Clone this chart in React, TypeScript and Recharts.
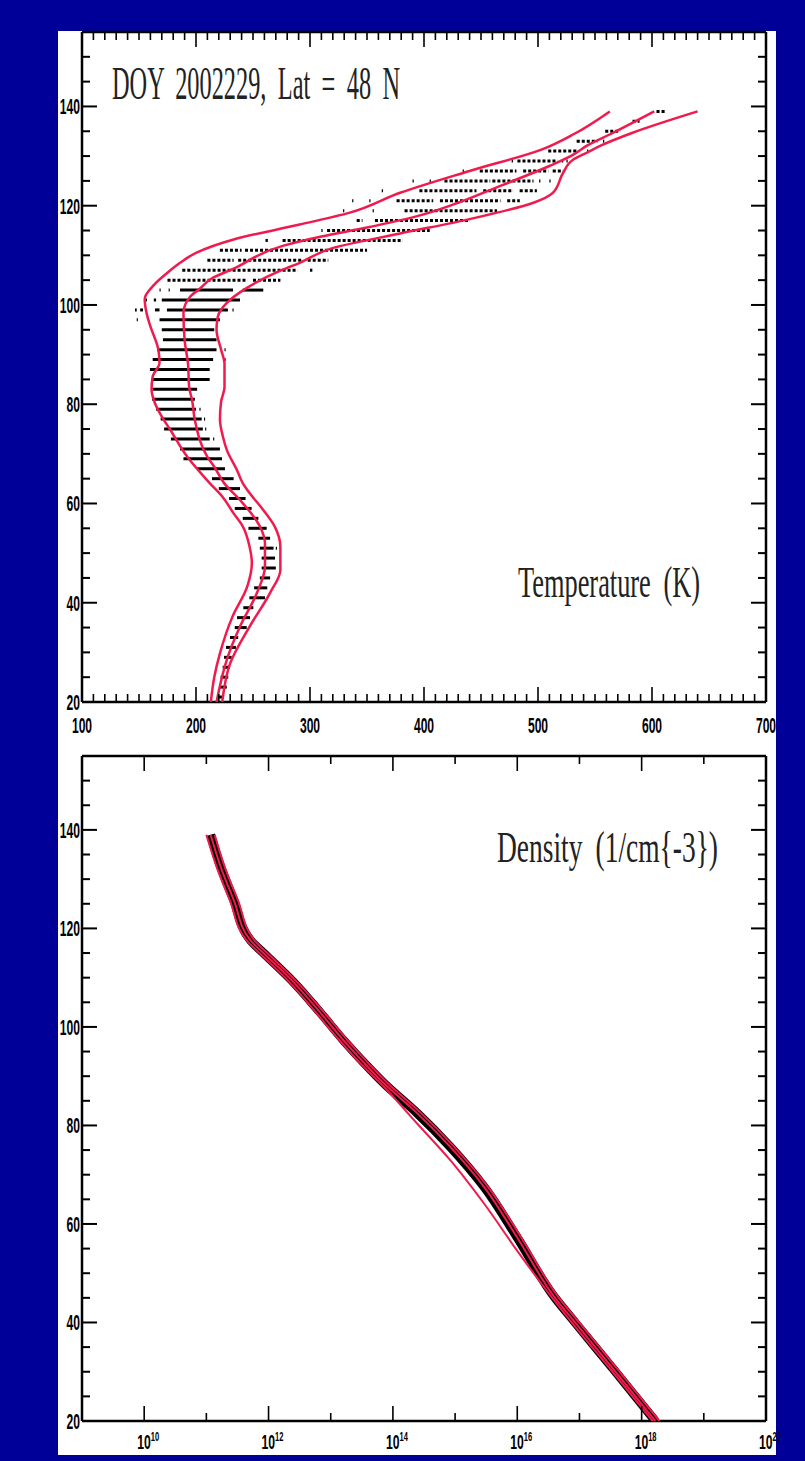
import React from "react";
import { ScatterChart, Scatter, XAxis, YAxis, ErrorBar } from "recharts";

const BLUE = "#000099";
const RED = "#f11a4d";
const INK = "#000";
const LABEL_FONT = "'Liberation Sans', Arial, sans-serif";
const NOTE_FONT = "'Liberation Serif', 'DejaVu Serif', serif";

const altTicks = [20, 25, 30, 35, 40, 45, 50, 55, 60, 65, 70, 75, 80, 85, 90, 95, 100, 105, 110, 115, 120, 125, 130, 135, 140, 145, 150];
const tempTicks = Array.from({ length: 61 }, (_, i) => 100 + i * 10);
const densTicks = [1e9, 1e10, 1e11, 1e12, 1e13, 1e14, 1e15, 1e16, 1e17, 1e18, 1e19, 1e20];

// red temperature profiles: [altitude km, temperature K], top to bottom
const tempCold: [number, number][] = [
  [139, 563], [134.5, 532], [131.3, 503], [127, 440], [122.6, 379], [118.6, 335], [116.2, 291],
  [113.2, 233], [110.5, 200], [108.5, 186], [106.5, 175], [104, 163], [101.2, 155], [98, 157],
  [95.7, 160], [91, 167], [88.3, 168], [85.6, 162], [82.9, 161], [80.2, 164], [77.5, 170],
  [75, 177], [69.5, 192], [64.1, 212], [61.4, 223], [58, 233], [55.4, 241], [51.3, 247],
  [48, 249], [43.3, 245], [37.2, 232], [29.8, 221], [25, 216], [20, 213],
];

const tempMean: [number, number][] = [
  [139, 602], [134.7, 566], [132.1, 543], [130.3, 531], [128, 510], [124, 467], [120.6, 430],
  [117.9, 394], [115.6, 350], [113.8, 310], [111.9, 276], [107.2, 232], [105.5, 215], [103.2, 203],
  [101.7, 195], [98.4, 189], [93, 190], [88.1, 193], [83.4, 194], [80.9, 196.5], [76.8, 199],
  [69.4, 210], [67.4, 216], [64, 225], [60.7, 238.6], [55.4, 256], [52, 260.5], [47.3, 260.5],
  [42, 253.5], [35.2, 238.6], [28.5, 227], [20, 218],
];

const tempWarm: [number, number][] = [
  [139, 640], [134.7, 583], [132, 554], [130.7, 543], [129.3, 531], [126.6, 522], [122.6, 513],
  [120.6, 496], [117.2, 438], [114.4, 379], [111.4, 319], [108.5, 291], [107, 275], [103.5, 245],
  [100.4, 227], [97.5, 219], [95, 218], [91, 222], [88.1, 225], [83.4, 225], [80.5, 222],
  [76.9, 221], [73.4, 223.7], [70.8, 227], [66.7, 236], [64.1, 241], [62.7, 245], [58.7, 259],
  [55.4, 269], [51.3, 274], [46.6, 274], [42, 265], [35.2, 247], [27.8, 230], [20, 223],
];

// observed temperatures: altitude row (km) and the spans of dashes on it (K)
const tempObs: [number, [number, number][]][] = [
  [21, [[219, 224]]],
  [23, [[221, 227]]],
  [25, [[221.6, 228.3]]],
  [27, [[223.4, 229.8]]],
  [29, [[224.6, 231.3]]],
  [31, [[226.3, 235]]],
  [33, [[229.8, 237]]],
  [35, [[234, 244.5]]],
  [37, [[236, 247.4]]],
  [39, [[241.5, 250.3]]],
  [41, [[246.8, 260.5]]],
  [43, [[251, 262.5]]],
  [45, [[256, 265]]],
  [47, [[257.6, 270]]],
  [49, [[257.6, 269.3]]],
  [51, [[256, 268], [270, 271]]],
  [53, [[254.7, 265]]],
  [55, [[246, 262]]],
  [57, [[241, 254.7]]],
  [59, [[234, 248.8]]],
  [61, [[229, 243.5]]],
  [63, [[220, 238.6]]],
  [65, [[214, 233]]],
  [67, [[201, 225.4]]],
  [69, [[189, 222.8]]],
  [71, [[186, 221]]],
  [73, [[178, 212], [215, 216]]],
  [75, [[172, 206], [208, 209]]],
  [77, [[169, 205], [207, 208]]],
  [79, [[165, 200], [203, 204]]],
  [81, [[161.5, 199]]],
  [83, [[162, 201]]],
  [85, [[161, 212]]],
  [87, [[159.6, 212]]],
  [89, [[162, 215], [225, 226]]],
  [91, [[166, 218], [225, 226]]],
  [93, [[171, 218]]],
  [95, [[170, 216]]],
  [97, [[148, 149], [168, 221]]],
  [99, [[146.5, 148], [151, 153.5], [164, 168], [174.5, 228], [232, 233]]],
  [101, [[156, 157], [163, 165], [170, 238.6]]],
  [103, [[168, 169], [176, 177], [186, 232.5], [241, 259]]],
  [105, [[175, 245], [250, 274]]],
  [107, [[188, 195], [197, 289], [300, 302]]],
  [109, [[210, 233], [237, 294], [298, 316]]],
  [111, [[221, 240], [243, 350]]],
  [113, [[261, 263], [276, 381]]],
  [115, [[310, 311], [315, 405]]],
  [117, [[341, 346], [357, 440]]],
  [119, [[329, 330], [355, 356], [383, 464]]],
  [121, [[337, 338], [352, 353], [376, 408], [414, 467], [473, 484]]],
  [123, [[363, 364], [396, 446], [452, 478], [484, 499]]],
  [125, [[390, 391], [405, 406], [418, 458], [460, 496], [501, 502], [510, 511]]],
  [127, [[434, 435], [449, 481], [487, 509], [513, 522]]],
  [129, [[477, 478], [482, 517], [521, 522], [525, 526]]],
  [131, [[509, 534], [543, 544]]],
  [133, [[534, 552], [557, 558]]],
  [135, [[559, 572]]],
  [137, [[583, 589]]],
  [139, [[604, 611]]],
];

// density profiles: [altitude km, density 1/cm^3], top to bottom
const densMean: [number, number][] = [
  [139, 1.17e11], [132.5, 1.7e11], [125.8, 2.75e11], [117.6, 5.1e11], [114.3, 9.5e11],
  [108.9, 2.6e12], [102.8, 6.9e12], [97.3, 1.6e13], [92.6, 3.5e13], [88.6, 7.1e13],
  [82.5, 2.45e14], [75.7, 8.3e14], [67.6, 2.9e15], [57.4, 9.8e15], [44.9, 4.1e16],
  [40, 8.5e16], [30, 3.8e17], [20, 1.66e18],
];

const densUpper: [number, number][] = [
  [139, 1.36e11], [132.5, 1.97e11], [125.8, 3.2e11], [117.6, 5.9e11], [114.3, 1.1e12],
  [108.9, 3.0e12], [102.8, 8.0e12], [97.3, 1.86e13], [92.6, 4.06e13], [88.6, 8.2e13],
  [82.5, 2.84e14], [75.7, 9.6e14], [67.6, 3.36e15], [57.4, 1.14e16], [44.9, 4.75e16],
  [40, 9.9e16], [30, 4.4e17], [20, 1.93e18],
];

const densLower: [number, number][] = [
  [139, 1.0e11], [132.5, 1.46e11], [125.8, 2.37e11], [117.6, 4.4e11], [114.3, 8.2e11],
  [108.9, 2.24e12], [102.8, 5.9e12], [97.3, 1.38e13], [92.6, 3.0e13], [87.9, 7.1e13],
  [80.4, 2.45e14], [73, 8.3e14], [64.2, 2.9e15], [54.7, 9.8e15], [45.3, 3.5e16],
  [40, 7.5e16], [30, 3.4e17], [20, 1.5e18],
];

const toPts = (rows: [number, number][]) => rows.map(([y, x]) => ({ x, y }));

const obsSpans = (rows: typeof tempObs) =>
  rows.flatMap(([alt, spans]) => spans.map(([a, b]) => ({ x: (a + b) / 2, y: alt, err: (b - a) / 2 })));

// lower rows are packed solid, the thermosphere rows are loose dots
const obsDense = obsSpans(tempObs.filter(([alt]) => alt < 105));
const obsLoose = obsSpans(tempObs.filter(([alt]) => alt >= 105));

const noDot = () => null;
const len = (major: boolean) => (major ? 15 : 8);

function LeftTick({ x, y, payload }: any) {
  const v = payload.value;
  const major = v % 20 === 0;
  return (
    <g>
      <line x1={x} x2={x + len(major)} y1={y} y2={y} stroke={INK} strokeWidth={2} />
      {major && (
        <text
          transform={`translate(${x - 2} ${y + 8}) scale(0.55 1)`}
          textAnchor="end"
          fontFamily={LABEL_FONT}
          fontWeight="bold"
          fontSize={22}
          fill={INK}
        >
          {v}
        </text>
      )}
    </g>
  );
}

function RightTick({ x, y, payload }: any) {
  const major = payload.value % 20 === 0;
  return <line x1={x} x2={x - len(major)} y1={y} y2={y} stroke={INK} strokeWidth={2} />;
}

function TempBottomTick({ x, y, payload }: any) {
  const v = payload.value;
  const major = v % 100 === 0;
  return (
    <g>
      <line x1={x} x2={x} y1={y} y2={y - len(major)} stroke={INK} strokeWidth={1.6} />
      {major && (
        <text
          transform={`translate(${x} ${y + 31}) scale(0.55 1)`}
          textAnchor="middle"
          fontFamily={LABEL_FONT}
          fontWeight="bold"
          fontSize={22}
          fill={INK}
        >
          {v}
        </text>
      )}
    </g>
  );
}

function TempTopTick({ x, y, payload }: any) {
  const major = payload.value % 100 === 0;
  return <line x1={x} x2={x} y1={y} y2={y + len(major)} stroke={INK} strokeWidth={1.6} />;
}

function DensBottomTick({ x, y, payload }: any) {
  const e = Math.round(Math.log10(payload.value));
  const major = e % 2 === 0;
  return (
    <g>
      <line x1={x} x2={x} y1={y} y2={y - len(major)} stroke={INK} strokeWidth={1.6} />
      {major && e >= 10 && (
        <text
          transform={`translate(${x - 7} ${y + 28}) scale(0.58 1)`}
          fontFamily={LABEL_FONT}
          fontWeight="bold"
          fontSize={21}
          fill={INK}
        >
          10
          <tspan dy={-8} fontSize={13}>
            {e}
          </tspan>
        </text>
      )}
    </g>
  );
}

function DensTopTick({ x, y, payload }: any) {
  const e = Math.round(Math.log10(payload.value));
  return <line x1={x} x2={x} y1={y} y2={y + len(e % 2 === 0)} stroke={INK} strokeWidth={1.6} />;
}

const axisLine = { stroke: INK, strokeWidth: 2.5 };

export default function App() {
  return (
    <div style={{ position: "absolute", left: 0, top: 0, width: 805, height: 1461, background: BLUE, overflow: "hidden" }}>
      <div style={{ position: "absolute", left: 58, top: 31, width: 718, height: 1424, background: "#fff" }} />

      <div style={{ position: "absolute", left: 0, top: 0 }}>
        <ScatterChart width={805} height={745} margin={{ top: 31, right: 38, bottom: 42, left: 81 }}>
          <XAxis xAxisId={0} dataKey="x" type="number" domain={[100, 700]} allowDataOverflow ticks={tempTicks}
            interval={0} height={1} tickSize={0} tickMargin={0} tickLine={false} axisLine={axisLine} tick={<TempBottomTick />} />
          <XAxis xAxisId="top" orientation="top" dataKey="x" type="number" domain={[100, 700]} allowDataOverflow ticks={tempTicks}
            interval={0} height={1} tickSize={0} tickMargin={0} tickLine={false} axisLine={axisLine} tick={<TempTopTick />} />
          <YAxis yAxisId={0} dataKey="y" type="number" domain={[20, 155]} allowDataOverflow ticks={altTicks}
            interval={0} width={1} tickSize={0} tickMargin={0} tickLine={false} axisLine={axisLine} tick={<LeftTick />} />
          <YAxis yAxisId="right" orientation="right" dataKey="y" type="number" domain={[20, 155]} allowDataOverflow ticks={altTicks}
            interval={0} width={1} tickSize={0} tickMargin={0} tickLine={false} axisLine={axisLine} tick={<RightTick />} />

          <Scatter data={obsDense} shape={noDot} isAnimationActive={false}>
            <ErrorBar dataKey="err" direction="x" width={0} stroke={INK} strokeWidth={3} isAnimationActive={false} />
          </Scatter>
          <Scatter data={obsLoose} shape={noDot} isAnimationActive={false}>
            <ErrorBar dataKey="err" direction="x" width={0} stroke={INK} strokeWidth={3} strokeDasharray="3 2" isAnimationActive={false} />
          </Scatter>
          <Scatter data={toPts(tempCold)} shape={noDot} line={{ stroke: RED, strokeWidth: 2.5 }} lineJointType="monotoneY" isAnimationActive={false} />
          <Scatter data={toPts(tempMean)} shape={noDot} line={{ stroke: RED, strokeWidth: 2.5 }} lineJointType="monotoneY" isAnimationActive={false} />
          <Scatter data={toPts(tempWarm)} shape={noDot} line={{ stroke: RED, strokeWidth: 2.5 }} lineJointType="monotoneY" isAnimationActive={false} />
        </ScatterChart>
      </div>

      <div style={{ position: "absolute", left: 0, top: 730 }}>
        <ScatterChart width={805} height={731} margin={{ top: 25, right: 38, bottom: 39, left: 81 }}>
          <XAxis xAxisId={0} dataKey="x" type="number" scale="log" domain={[1e9, 1e20]} allowDataOverflow ticks={densTicks}
            interval={0} height={1} tickSize={0} tickMargin={0} tickLine={false} axisLine={axisLine} tick={<DensBottomTick />} />
          <XAxis xAxisId="top" orientation="top" dataKey="x" type="number" scale="log" domain={[1e9, 1e20]} allowDataOverflow ticks={densTicks}
            interval={0} height={1} tickSize={0} tickMargin={0} tickLine={false} axisLine={axisLine} tick={<DensTopTick />} />
          <YAxis yAxisId={0} dataKey="y" type="number" domain={[20, 155]} allowDataOverflow ticks={altTicks}
            interval={0} width={1} tickSize={0} tickMargin={0} tickLine={false} axisLine={axisLine} tick={<LeftTick />} />
          <YAxis yAxisId="right" orientation="right" dataKey="y" type="number" domain={[20, 155]} allowDataOverflow ticks={altTicks}
            interval={0} width={1} tickSize={0} tickMargin={0} tickLine={false} axisLine={axisLine} tick={<RightTick />} />

          <Scatter data={toPts(densMean)} shape={noDot} line={{ stroke: INK, strokeWidth: 9 }} lineJointType="monotoneY" isAnimationActive={false} />
          <Scatter data={toPts(densLower)} shape={noDot} line={{ stroke: RED, strokeWidth: 2 }} lineJointType="monotoneY" isAnimationActive={false} />
          <Scatter data={toPts(densMean)} shape={noDot} line={{ stroke: RED, strokeWidth: 2 }} lineJointType="monotoneY" isAnimationActive={false} />
          <Scatter data={toPts(densUpper)} shape={noDot} line={{ stroke: RED, strokeWidth: 2 }} lineJointType="monotoneY" isAnimationActive={false} />
        </ScatterChart>
      </div>

      <svg width={805} height={1461} style={{ position: "absolute", left: 0, top: 0, pointerEvents: "none" }}>
        <text x={112} y={99} fontFamily={NOTE_FONT} fontSize={46} fill="#222" wordSpacing={10} textLength={288} lengthAdjust="spacingAndGlyphs">
          DOY 2002229, Lat = 48 N
        </text>
        <text x={518} y={597} fontFamily={NOTE_FONT} fontSize={44} fill="#222" wordSpacing={10} textLength={182} lengthAdjust="spacingAndGlyphs">
          Temperature (K)
        </text>
        <text x={497} y={862} fontFamily={NOTE_FONT} fontSize={44} fill="#222" wordSpacing={10} textLength={221} lengthAdjust="spacingAndGlyphs">
          Density (1/cm{"{"}-3{"}"})
        </text>
      </svg>
    </div>
  );
}
